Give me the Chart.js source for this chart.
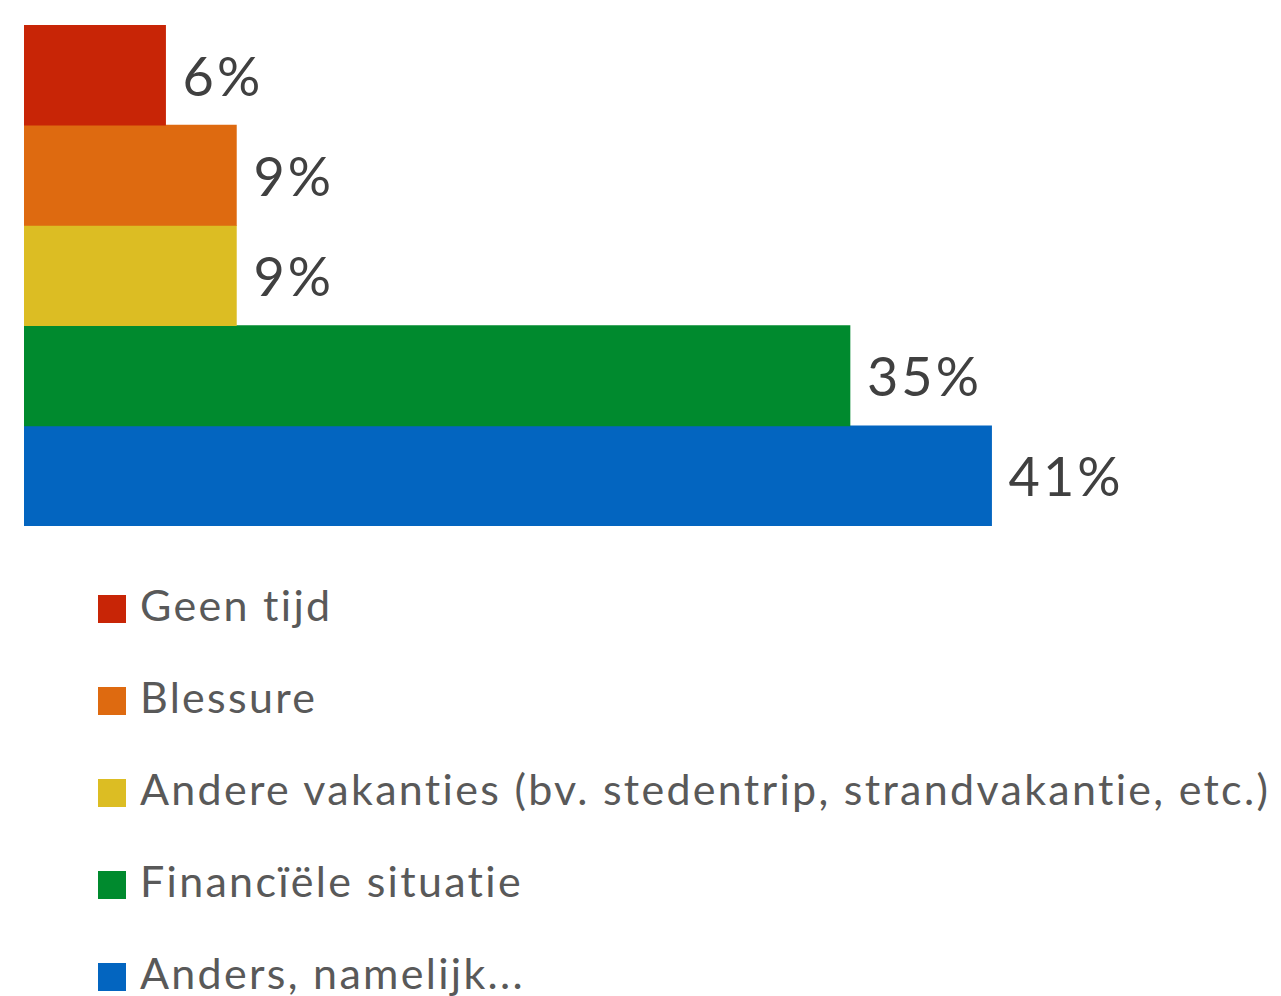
<!DOCTYPE html>
<html>
<head>
<meta charset="utf-8">
<script src="https://cdn.jsdelivr.net/npm/chart.js@4.4.1/dist/chart.umd.min.js"></script>
<style>
    html, body { margin: 0; padding: 0; background: #fff; }
    #wrap { position: relative; width: 1281px; height: 996px; overflow: hidden; }
    #chartBox { position: absolute; left: 0; top: 0; width: 1281px; height: 545px; }
    #legend { position: absolute; left: 98px; top: 558px; margin: 0; padding: 0; list-style: none; }
    #legend li { height: 92px; display: flex; align-items: center; font-family: Lato, "Open Sans", sans-serif; font-size: 43px; letter-spacing: 2.3px; color: #595959; white-space: nowrap; }
    #legend .box { width: 28px; height: 28px; margin-right: 14px; flex: none; position: relative; top: 5px; }
</style>
</head>
<body>
<div id="wrap">
    <div id="chartBox"><canvas id="reasonChart"></canvas></div>
    <ul id="legend"></ul>
</div>
<script>
var categories = ["Redenen"];
var seriesNames = ["Geen tijd", "Blessure", "Andere vakanties (bv. stedentrip, strandvakantie, etc.)", "Financïële situatie", "Anders, namelijk..."];
var seriesValues = [6, 9, 9, 35, 41];
var seriesColors = ["#C82506", "#DE6A10", "#DCBD23", "#008A2E", "#0365C0"];

// value labels next to each bar
var valueLabels = {
    id: "valueLabels",
    afterDatasetsDraw: function (chart) {
        var ctx = chart.ctx;
        ctx.save();
        ctx.font = "54px Lato, 'Open Sans', sans-serif";
        ctx.letterSpacing = "3px";
        ctx.fillStyle = "#404040";
        ctx.textBaseline = "middle";
        ctx.textAlign = "left";
        chart.data.datasets.forEach(function (ds, i) {
            var bar = chart.getDatasetMeta(i).data[0];
            ctx.fillText(ds.data[0] + "%", bar.x + 17, bar.y + 3);
        });
        ctx.restore();
    }
};

var chart = new Chart(document.getElementById("reasonChart"), {
    type: "bar",
    data: {
        labels: categories,
        datasets: seriesNames.map(function (name, i) {
            return {
                label: name,
                data: [seriesValues[i]],
                backgroundColor: seriesColors[i],
                categoryPercentage: 1,
                barPercentage: 1
            };
        })
    },
    options: {
        indexAxis: "y",
        responsive: true,
        maintainAspectRatio: false,
        animation: false,
        layout: { padding: { left: 24, top: 25, right: 77, bottom: 19 } },
        scales: {
            x: { min: 0, max: 50, display: false, grid: { display: false } },
            y: { display: false, grid: { display: false } }
        },
        plugins: {
            legend: { display: false },
            tooltip: { enabled: false }
        }
    },
    plugins: [valueLabels]
});

// legend below the chart
var legendEl = document.getElementById("legend");
seriesNames.forEach(function (name, i) {
    var li = document.createElement("li");
    var box = document.createElement("span");
    box.className = "box";
    box.style.background = seriesColors[i];
    li.appendChild(box);
    li.appendChild(document.createTextNode(name));
    legendEl.appendChild(li);
});
</script>
</body>
</html>
